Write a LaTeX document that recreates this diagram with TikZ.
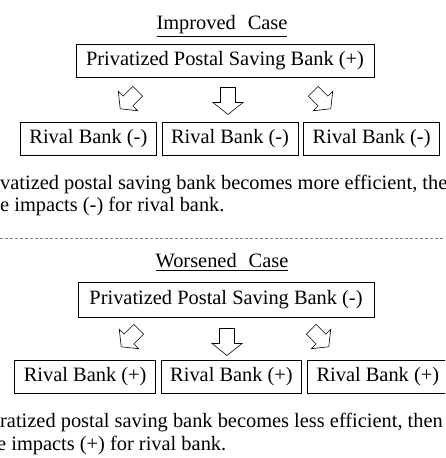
\documentclass[tikz,border=0pt]{standalone}
\usepackage{fontspec}
\setmainfont{Liberation Serif}
\usetikzlibrary{positioning}

\tikzset{
  bankbox/.style={draw, line width=0.8pt, inner xsep=9pt, inner ysep=0pt, minimum height=33pt},
  fatarrow/.pic={
    \draw[line width=0.6pt, line join=miter]
      (-7.5,13.5) -- (7.5,13.5) -- (7.5,-1.5) -- (15,-1.5) -- (0,-13.5)
      -- (-15,-1.5) -- (-7.5,-1.5) -- cycle;
  }
}

\begin{document}
\begin{tikzpicture}[x=1pt,y=1pt,font=\fontsize{20.4}{22}\selectfont]
\clip (0,0) rectangle (445,458);

% improved case
\node[anchor=base] (impTitle) at (222,428) {\underline{Improved\hspace{12pt}Case}};
\node[bankbox, minimum width=298pt] (impPsb) at (225,397.5) {Privatized Postal Saving Bank (+)};
\node[bankbox] (impRivalM) at (230,319.5) {Rival Bank (-)};
\node[bankbox, left=5pt of impRivalM] (impRivalL) {Rival Bank (-)};
\node[bankbox, right=5pt of impRivalM] (impRivalR) {Rival Bank (-)};

% arrows
\pic[rotate=-45, scale=0.92] at (129,358) {fatarrow};
\pic at (228,357) {fatarrow};
\pic[rotate=45, scale=0.92] at (322,358) {fatarrow};

% note
\node[anchor=base west, inner sep=0pt] (impNoteA) at (0,268) {vatized postal saving bank becomes more efficient, then};
\node[anchor=base west, inner sep=0pt] (impNoteB) at (0,246) {e impacts (-) for rival bank.};

% separator
\draw[gray, dash pattern=on 3pt off 2pt] (0,220) -- (445,220);

% worsened case
\node[anchor=base] (worTitle) at (222,190) {\underline{Worsened\hspace{12pt}Case}};
\node[bankbox, minimum width=296pt, minimum height=35pt] (worPsb) at (226,158.5) {Privatized Postal Saving Bank (-)};
\node[bankbox] (worRivalM) at (231.5,81) {Rival Bank (+)};
\node[bankbox, left=5pt of worRivalM] (worRivalL) {Rival Bank (+)};
\node[bankbox, right=5pt of worRivalM] (worRivalR) {Rival Bank (+)};

% arrows
\pic[rotate=-45, scale=0.92] at (130,120) {fatarrow};
\pic at (227,116) {fatarrow};
\pic[rotate=45, scale=0.92] at (320,120) {fatarrow};

% note
\node[anchor=base west, inner sep=0pt] (worNoteA) at (0,30) {ratized postal saving bank becomes less efficient, then};
\node[anchor=base west, inner sep=0pt] (worNoteB) at (-3,8) {e impacts (+) for rival bank.};

\end{tikzpicture}
\end{document}
